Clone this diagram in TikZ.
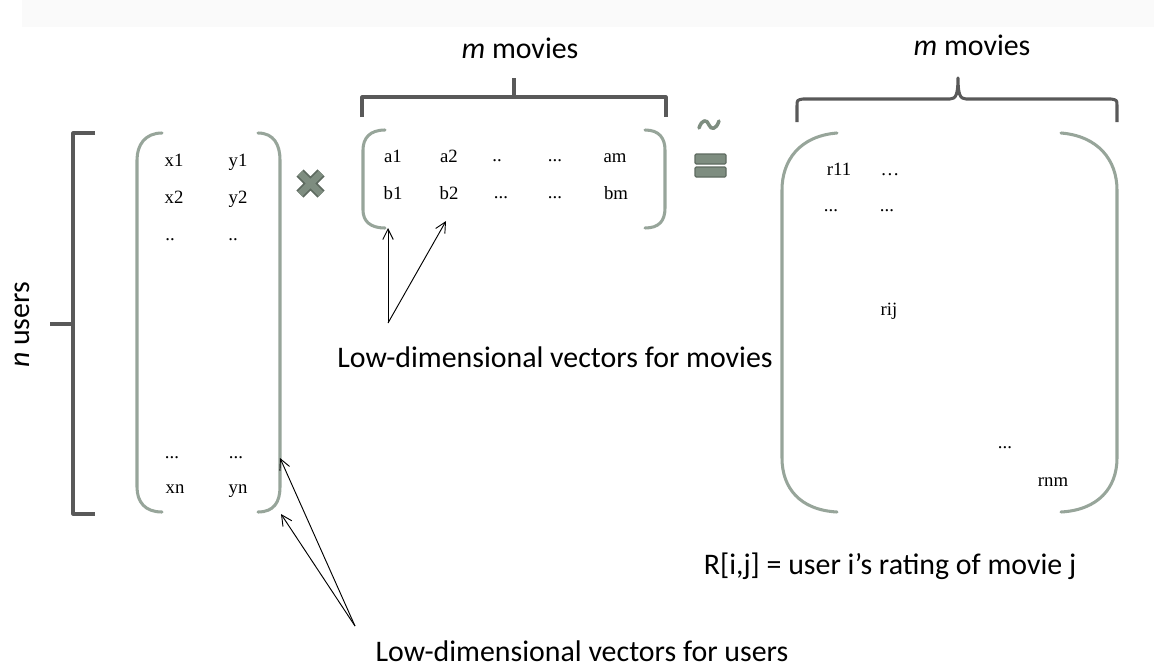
\documentclass[tikz,border=0pt]{standalone}
\usepackage{fontspec}
\setmainfont{Carlito}
\newfontfamily\cellfont{Liberation Serif}
\usetikzlibrary{arrows.meta}
\definecolor{parengray}{HTML}{97A59A}
\definecolor{bracketgray}{HTML}{595959}
\definecolor{signgreen}{HTML}{7E8D80}
\definecolor{signdark}{HTML}{5E6A60}
\tikzset{
  paren/.style={draw=parengray, line width=2.6pt, line cap=round},
  bracket/.style={draw=bracketgray, line width=2.6pt},
  cell/.style={font=\cellfont\fontsize{16}{18}\selectfont, inner sep=0pt,
    text height=1.6ex, text depth=0.3ex},
  caption/.style={font=\fontsize{25.5}{30}\selectfont, inner sep=0pt},
  pointer/.style={-{Straight Barb[length=9pt,width=9pt]}, line width=0.8pt},
}
\begin{document}
\begin{tikzpicture}[x=0.03cm, y=-0.03cm, line join=round]
  \useasboundingbox (0,0) rectangle (1167,668);
  \fill[black!2] (22,0) rectangle (1154,27);

  % n users bracket
  \draw[bracket] (95,133) -- (73,133) -- (73,514) -- (95,514);
  \draw[bracket] (50,324) -- (73,324);
  \node[caption, rotate=90] (nusers) at (22,325) {\textit{n} users};

  % user matrix
  \draw[paren] (162,133) .. controls (145,133) and (137,145) .. (137,160)
    -- (137,487) .. controls (137,502) and (145,512) .. (162,512);
  \draw[paren] (258,133) .. controls (274,133) and (280,145) .. (280,160)
    -- (280,487) .. controls (280,502) and (274,512) .. (258,512);
  \node[cell] (x1) at (174,163) {x1};   \node[cell] (y1) at (238,163) {y1};
  \node[cell] (x2) at (174,200) {x2};   \node[cell] (y2) at (238,200) {y2};
  \node[cell] (xd) at (170,237) {..};   \node[cell] (yd) at (233,237) {..};
  \node[cell] (xe) at (172,455) {...};  \node[cell] (ye) at (236,455) {...};
  \node[cell] (xn) at (175,490) {xn};   \node[cell] (yn) at (238,490) {yn};

  % times sign
  \draw[signdark, line width=8.5pt] (300,173) -- (321,194) (321,173) -- (300,194);
  \draw[signgreen, line width=5.5pt] (300,173) -- (321,194) (321,173) -- (300,194);

  % m movies bracket (left)
  \draw[bracket] (362,117) -- (362,97) -- (666,97) -- (666,117);
  \draw[bracket] (514,97) -- (514,78);
  \node[caption] (mleft) at (520,48) {\textit{m} movies};

  % movie matrix
  \draw[paren] (385,130) .. controls (370,130) and (363,138) .. (363,150)
    -- (363,210) .. controls (363,221) and (370,228) .. (385,228);
  \draw[paren] (645,130) .. controls (659,130) and (665,138) .. (665,150)
    -- (665,208) .. controls (665,221) and (659,228) .. (645,228);
  \node[cell] (a1) at (393,159) {a1};  \node[cell] (b1) at (393,196) {b1};
  \node[cell] (a2) at (449,159) {a2};  \node[cell] (b2) at (449,196) {b2};
  \node[cell] (a3) at (497,158) {..};  \node[cell] (b3) at (501,195) {...};
  \node[cell] (a4) at (555,158) {...}; \node[cell] (b4) at (555,195) {...};
  \node[cell] (am) at (615,159) {am};  \node[cell] (bm) at (616,196) {bm};

  % approx sign
  \draw[signgreen, line width=3pt, line cap=round] (699,128)
    .. controls (702,119) and (707,119) .. (709,125)
    .. controls (711,130) and (716,130) .. (719,121);
  \draw[signdark, fill=signgreen, line width=1pt, rounded corners=1pt]
    (695,154) rectangle (726,164) (695,167) rectangle (726,177);

  % m movies brace (right)
  \draw[bracket] (797,122) -- (797,106) .. controls (797,100) .. (803,99)
    -- (950,99) .. controls (956,99) and (958,94) .. (958,78)
    .. controls (958,94) and (960,99) .. (966,99)
    -- (1111,99) .. controls (1117,100) .. (1117,106) -- (1117,122);
  \node[caption] (mright) at (972,45) {\textit{m} movies};

  % rating matrix
  \draw[paren] (837,133) .. controls (800,136) and (782,160) .. (782,190)
    -- (782,458) .. controls (782,488) and (800,510) .. (837,512);
  \draw[paren] (1061,133) .. controls (1098,136) and (1117,160) .. (1117,190)
    -- (1117,458) .. controls (1117,488) and (1098,510) .. (1061,512);
  \node[cell] (r11) at (839,172) {r11};
  \node[cell] (r12) at (890,172) {\dots};
  \node[cell] (r21) at (831,208) {...};
  \node[cell] (r22) at (887,208) {...};
  \node[cell] (rij) at (889,312) {rij};
  \node[cell] (rdots) at (1005,445) {...};
  \node[cell] (rnm) at (1053,483) {rnm};
  \node[caption] (rdef) at (890,566) {R[i,j] = user i’s rating of movie j};

  % pointers
  \node[caption] (movielabel) at (555,357) {Low-dimensional vectors for movies};
  \coordinate (movietail) at (388,323);
  \coordinate (movietipA) at (388,228);
  \coordinate (movietipB) at (446,221);
  \draw[pointer] (movietail) -- (movietipA);
  \draw[pointer] (movietail) -- (movietipB);

  \node[caption] (userlabel) at (582,651) {Low-dimensional vectors for users};
  \coordinate (usertail) at (355,626);
  \coordinate (usertipA) at (280,458);
  \coordinate (usertipB) at (281,514);
  \draw[pointer] (usertail) -- (usertipA);
  \draw[pointer] (usertail) -- (usertipB);
\end{tikzpicture}
\end{document}
